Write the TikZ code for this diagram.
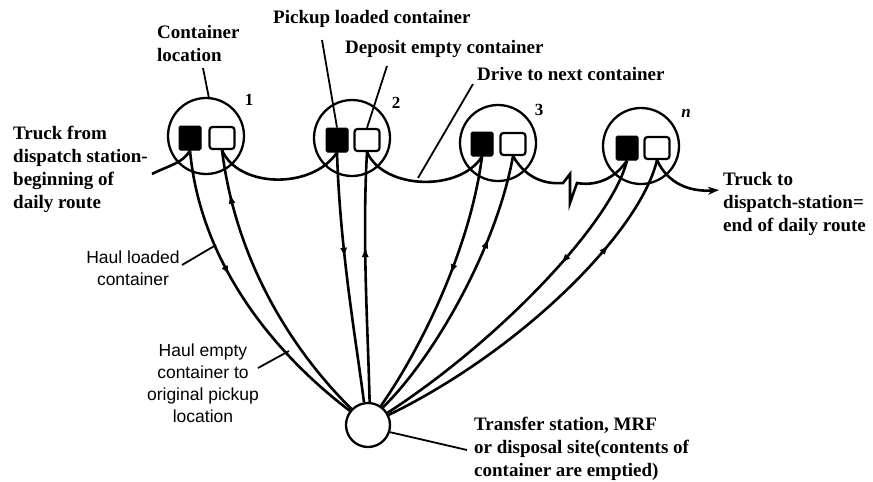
\documentclass[tikz,border=0pt]{standalone}
\usepackage{fontspec}
\setmainfont{Liberation Serif}
\newfontfamily\haulfont{Liberation Sans}
\usetikzlibrary{arrows.meta,decorations.markings}
\begin{document}
\begin{tikzpicture}[x=1pt,y=-1pt,
  loc/.style={circle, draw, line width=2.3pt, minimum size=76pt, inner sep=0pt},
  site/.style={circle, draw, line width=2.3pt, minimum size=44pt, inner sep=0pt},
  full/.style={draw, fill=black, line width=1pt, rounded corners=1.5pt, minimum width=22pt, minimum height=24pt, inner sep=0pt},
  empt/.style={draw, fill=white, line width=2.2pt, rounded corners=3pt, minimum width=25pt, minimum height=22pt, inner sep=0pt},
  lbl/.style={font=\fontsize{19}{23}\selectfont\bfseries, inner sep=0pt, align=left, anchor=north west},
  slbl/.style={font=\haulfont\fontsize{17.5}{22}\selectfont, inner sep=0pt, align=center, anchor=north},
  num/.style={font=\fontsize{17}{20}\selectfont\bfseries, inner sep=0pt},
  route/.style={line width=2.6pt},
  haul/.style={line width=2.6pt},
  leader/.style={line width=1.8pt},
  mk/.style={postaction={decorate}, decoration={markings, mark=at position #1 with {\arrow{Latex[length=10pt,width=7pt]}}}}
]
\useasboundingbox (0,0) rectangle (873,482);

% container locations
\node[loc] (c1) at (206,136) {};
\node[loc] (c2) at (352,138) {};
\node[loc] (c3) at (498,143) {};
\node[loc] (c4) at (641,146) {};
\node[full] (b1) at (190,138) {};
\node[empt] (w1) at (222,138) {};
\node[full] (b2) at (337,140) {};
\node[empt] (w2) at (367,140) {};
\node[full] (b3) at (482,144) {};
\node[empt] (w3) at (513,144) {};
\node[full] (b4) at (627,148) {};
\node[empt] (w4) at (657,148) {};

\node[num] (n1) at (249,100) {1};
\node[num] (n2) at (396,103) {2};
\node[num] (n3) at (539,110) {3};
\node[num, font=\fontsize{17}{20}\selectfont\bfseries\itshape] (n4) at (686,113) {n};

% disposal site
\node[site] (d) at (368,425) {};

% route
\coordinate (start) at (152,174);
\coordinate (zz1) at (563,183);
\coordinate (zz2) at (570,174);
\coordinate (zz3) at (570,203);
\coordinate (zz4) at (577,183);
\coordinate (finish) at (719,190);
\draw[route] (start) .. controls (170,165) and (183,163) .. (b1.south);
\draw[route] (w1.south) .. controls (238,188) and (312,190) .. (b2.south);
\draw[route] (w2.south) .. controls (384,190) and (460,192) .. (b3.south);
\draw[route] (w3.south) .. controls (528,182) and (550,184) .. (zz1) -- (zz2) -- (zz3) -- (zz4) .. controls (595,186) and (614,180) .. (b4.south);
\draw[route, -{Stealth[length=11pt,width=8pt]}] (w4.south) .. controls (668,184) and (690,192) .. (finish);

% haul lines
\draw[haul, mk=0.42] (b1.south) .. controls (200,260) and (270,350) .. (d.142);
\draw[haul, mk=0.85] (d.136) .. controls (292,350) and (236,262) .. (w1.south);
\draw[haul, mk=0.42] (b2.south) .. controls (340,250) and (356,340) .. (d.100);
\draw[haul, mk=0.62] (d.86) .. controls (368,330) and (362,240) .. (w2.south);
\draw[haul, mk=0.45] (b3.south) .. controls (470,250) and (420,350) .. (d.56);
\draw[haul, mk=0.70] (d.50) .. controls (432,360) and (496,250) .. (w3.south);
\draw[haul, mk=0.35] (b4.south) .. controls (612,222) and (500,340) .. (d.32);
\draw[haul, mk=0.74] (d.26) .. controls (522,350) and (640,232) .. (w4.south);

% leaders
\coordinate (lcl) at (203,68);
\draw[leader] (lcl) -- (c1.86);
\coordinate (lpk) at (322,40);
\draw[leader] (lpk) -- (b2.north);
\coordinate (ldp) at (387,66);
\draw[leader] (ldp) -- (w2.north);
\coordinate (ldr) at (473,84);
\coordinate (ldr2) at (418,178);
\draw[leader] (ldr) -- (ldr2);
\coordinate (lhl) at (182,265);
\coordinate (lhl2) at (216,245);
\draw[leader] (lhl) -- (lhl2);
\coordinate (lhe) at (258,368);
\coordinate (lhe2) at (289,351);
\draw[leader] (lhe) -- (lhe2);
\coordinate (ltr) at (467,450);
\draw[leader] (d.-18) -- (ltr);

% labels
\node[lbl] (tcl) at (157,25) {Container\\location};
\node[lbl] (tpk) at (273,10) {Pickup loaded container};
\node[lbl] (tdp) at (345,40) {Deposit empty container};
\node[lbl] (tdr) at (477,67) {Drive to next container};
\node[lbl] (ttf) at (13,126) {Truck from\\dispatch station-\\beginning of\\daily route};
\node[lbl] (ttt) at (723,172) {Truck to\\dispatch-station=\\end of daily route};
\node[lbl] (tts) at (474,417) {Transfer station, MRF\\or disposal site(contents of\\container are emptied)};
\node[slbl] (thl) at (133,251) {Haul loaded\\container};
\node[slbl] (the) at (203,344) {Haul empty\\container to\\original pickup\\location};
\end{tikzpicture}
\end{document}
